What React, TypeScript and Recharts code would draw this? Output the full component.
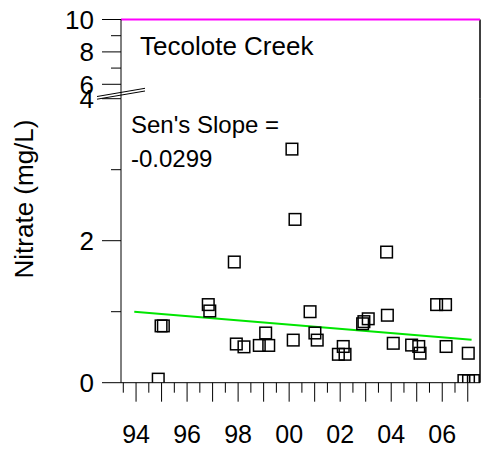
import React from 'react'
import { ComposedChart, Scatter, XAxis, YAxis, ReferenceLine } from 'recharts'

// sample dates (decimal year, 94 = 1994) and nitrate values (mg/L)
const sampleYears = [
  94.87, 94.98, 95.07, 96.83, 96.89, 97.85, 97.93, 98.23, 98.83, 99.08, 99.2, 100.11,
  100.16, 100.23, 100.82, 101.01, 101.1, 101.93, 102.12, 102.19, 102.88, 102.93, 103.1,
  103.82, 103.85, 104.08, 104.8, 105.08, 105.13, 105.78, 106.13, 106.15, 106.85, 107.02,
  107.03, 107.22,
]
const nitrate = [
  0.05, 0.8, 0.8, 1.1, 1.01, 1.7, 0.545, 0.505, 0.525, 0.7, 0.525, 3.29,
  0.6, 2.3, 1.0, 0.7, 0.6, 0.4, 0.51, 0.4, 0.83, 0.86, 0.9,
  1.84, 0.95, 0.555, 0.53, 0.51, 0.415, 1.1, 1.1, 0.51, 0.03, 0.415,
  0.03, 0.03,
]

// Sen's slope trend line end points
const trendYears = [93.93, 107.15]
const trendValues = [1.0, 0.605]

const xDomain = [93.41, 107.48]
const xTicks = [
  93.5, 94, 94.5, 95, 95.5, 96, 96.5, 97, 97.5, 98, 98.5, 99, 99.5, 100, 100.5,
  101, 101.5, 102, 102.5, 103, 103.5, 104, 104.5, 105, 105.5, 106, 106.5, 107,
]
const labelYears = [94, 96, 98, 100, 102, 104, 106]
const yearLabels = ['94', '96', '98', '00', '02', '04', '06']

const lowerTicks = [0, 1, 2, 3, 4]
const upperTicks = [6, 7, 8, 9, 10]
const yLabelled = [0, 2, 4, 6, 8, 10]

const FONT = '"Liberation Sans", Arial, sans-serif'

const points = sampleYears.map((x, i) => ({ x, y: nitrate[i] }))

const XTick = (props: any) => {
  const { x, y, payload } = props
  const v = payload.value
  const whole = Math.abs(v - Math.round(v)) < 0.01
  const li = labelYears.indexOf(Math.round(v))
  return (
    <g>
      <line x1={x} y1={y} x2={x} y2={y + (whole ? 19 : 10)} stroke="#000" strokeWidth={1} />
      {whole && li >= 0 && (
        <text x={x} y={y + 60} textAnchor="middle" fontSize={25} fontFamily={FONT} fill="#000">
          {yearLabels[li]}
        </text>
      )}
    </g>
  )
}

const YTick = (props: any) => {
  const { x, y, payload } = props
  const major = yLabelled.includes(payload.value)
  return (
    <g>
      <line x1={x - (major ? 19 : 10)} y1={y} x2={x} y2={y} stroke="#000" strokeWidth={1} />
      {major && (
        <text x={x - 27} y={y + 9.5} textAnchor="end" fontSize={26} fontFamily={FONT} fill="#000">
          {payload.value}
        </text>
      )}
    </g>
  )
}

const Square = (props: any) => {
  const { cx, cy } = props
  if (cx == null || cy == null) return null
  return <rect x={cx - 5.8} y={cy - 5.8} width={11.6} height={11.6} fill="none" stroke="#000" strokeWidth={1.5} />
}

export default function App() {
  const abs: React.CSSProperties = { position: 'absolute', left: 0, top: 0 }
  return (
    <div style={{ position: 'absolute', left: 0, top: 0, width: 484, height: 449, background: '#fff' }}>
      {/* lower panel, 0-4 */}
      <div style={abs}>
        <ComposedChart width={484} height={449} data={points} margin={{ top: 98.7, right: 4, bottom: 0, left: 0 }}>
          <XAxis
            type="number"
            dataKey="x"
            domain={xDomain}
            ticks={xTicks}
            interval={0}
            allowDataOverflow
            height={66.3}
            tickSize={0}
            tickMargin={0}
            tickLine={false}
            axisLine={{ stroke: '#000' }}
            tick={<XTick />}
          />
          <YAxis
            type="number"
            dataKey="y"
            domain={[0, 4]}
            ticks={lowerTicks}
            interval={0}
            allowDataOverflow
            width={121}
            tickSize={0}
            tickMargin={0}
            tickLine={false}
            axisLine={{ stroke: '#000' }}
            tick={<YTick />}
          />
          <ReferenceLine x={xDomain[1]} stroke="#000" strokeWidth={1.5} />
          <ReferenceLine
            segment={[
              { x: trendYears[0], y: trendValues[0] },
              { x: trendYears[1], y: trendValues[1] },
            ]}
            stroke="#00e600"
            strokeWidth={2}
          />
          <Scatter data={points} dataKey="y" shape={<Square />} isAnimationActive={false} />
        </ComposedChart>
      </div>
      {/* upper panel, 6-10 */}
      <div style={abs}>
        <ComposedChart width={484} height={449} margin={{ top: 19.5, right: 4, bottom: 350.3, left: 0 }}>
          <XAxis type="number" dataKey="x" domain={xDomain} allowDataOverflow hide />
          <YAxis
            type="number"
            domain={[5.11, 10]}
            ticks={upperTicks}
            interval={0}
            allowDataOverflow
            width={121}
            tickSize={0}
            tickMargin={0}
            tickLine={false}
            axisLine={{ stroke: '#000' }}
            tick={<YTick />}
          />
          <ReferenceLine x={xDomain[1]} stroke="#000" strokeWidth={1.5} />
          <ReferenceLine y={10} stroke="#ff00ff" strokeWidth={2} />
        </ComposedChart>
      </div>
      <svg width={484} height={449} style={{ ...abs, pointerEvents: 'none' }}>
        <line x1={97} y1={96.5} x2={145} y2={88.3} stroke="#000" strokeWidth={1} />
        <line x1={97} y1={99.2} x2={145} y2={91} stroke="#000" strokeWidth={1} />
        <text x={140} y={55} fontSize={26} fontFamily={FONT} fill="#000">Tecolote Creek</text>
        <text x={131} y={133} fontSize={24} fontFamily={FONT} fill="#000">Sen's Slope =</text>
        <text x={131} y={166.5} fontSize={24} fontFamily={FONT} fill="#000">-0.0299</text>
        <text
          transform="translate(33,199) rotate(-90)"
          textAnchor="middle"
          fontSize={26}
          fontFamily={FONT}
          fill="#000"
        >
          Nitrate (mg/L)
        </text>
      </svg>
    </div>
  )
}
